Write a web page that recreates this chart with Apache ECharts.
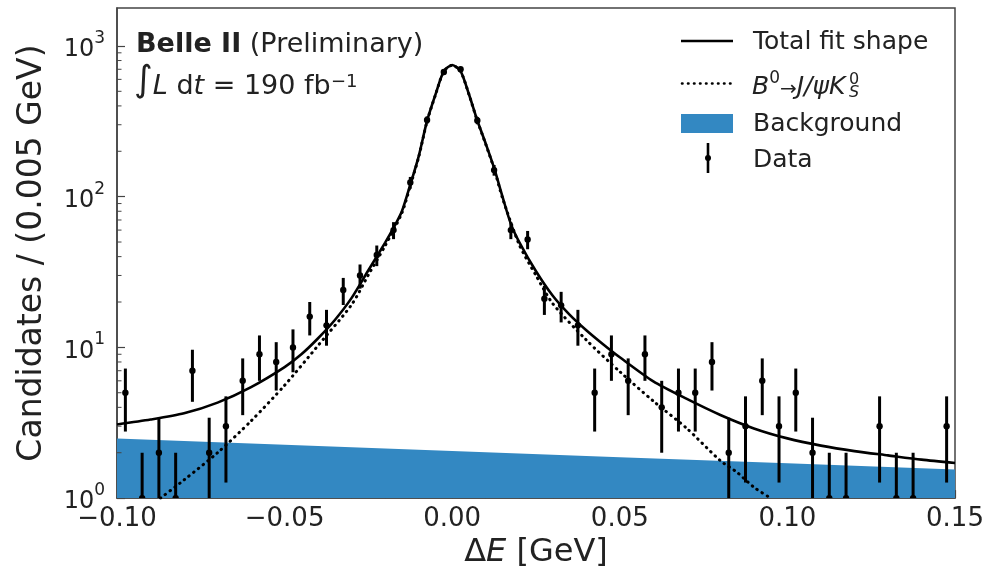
<!DOCTYPE html>
<html><head><meta charset="utf-8">
<script src="https://cdn.jsdelivr.net/npm/echarts/dist/echarts.min.js"></script>
<style>html,body{margin:0;padding:0;background:#fff}#c{width:998px;height:574px}</style>
</head><body><div id="c"></div>
<script>
// ---- data ----
const binCenters = [-0.0975,-0.0925,-0.0875,-0.0825,-0.0775,-0.0725,-0.0675,-0.0625,-0.0575,-0.0525,
  -0.0475,-0.0425,-0.0375,-0.0325,-0.0275,-0.0225,-0.0175,-0.0125,-0.0075,-0.0025,
  0.0025,0.0075,0.0125,0.0175,0.0225,0.0275,0.0325,0.0375,0.0425,0.0475,
  0.0525,0.0575,0.0625,0.0675,0.0725,0.0775,0.0825,0.0875,0.0925,0.0975,
  0.1025,0.1075,0.1125,0.1175,0.1225,0.1275,0.1325,0.1375,0.1425,0.1475];
const counts = [5,1,2,1,7,2,3,6,9,8,
  10,16,14,24,30,41,60,124,323,671,
  700,320,150,60,52,21,19,14,5,9,
  6,9,4,5,5,8,2,3,6,3,
  5,2,1,1,0,3,1,1,0,3];

const fitX = [-0.10,-0.09,-0.08,-0.07,-0.06,-0.05,-0.045,-0.04,-0.035,-0.03,-0.025,-0.02,-0.0175,-0.015,-0.0125,-0.01,-0.0075,-0.005,-0.0025,0,
  0.0025,0.005,0.0075,0.01,0.0125,0.015,0.0175,0.02,0.025,0.03,0.035,0.04,0.045,0.05,0.06,0.07,0.08,0.09,0.10,0.11,0.12,0.13,0.14,0.15];
const fitY = [3.08,3.32,3.65,4.3,5.45,7.4,9.0,11.5,15.2,21.3,32.5,49.5,62,80,120,185,318,475,680,747,
  680,478,320,225,155,100,66,50,32,22,16.5,13.0,10.5,8.6,5.95,4.55,3.56,2.9,2.49,2.23,2.05,1.92,1.80,1.71];

const sigX = [-0.087,-0.08,-0.07,-0.06,-0.05,-0.04,-0.03,-0.025,-0.02,-0.015,-0.0125,-0.01,-0.0075,-0.005,-0.0025,0,
  0.0025,0.005,0.0075,0.01,0.0125,0.015,0.02,0.025,0.03,0.04,0.05,0.06,0.07,0.08,0.085,0.09,0.095];
const sigY = [1.0,1.32,2.0,3.25,5.6,10.3,19.2,30.3,47.3,78,118,183,316,473,678,745,
  678,476,318,223,153,98,48,30,19.5,11.2,6.9,4.4,2.9,1.77,1.48,1.18,1.0];

const bkgX = [-0.10,-0.05,0.00,0.05,0.10,0.15];
const bkgY = [2.49,2.26,2.05,1.87,1.70,1.55];

const xTickValues = [-0.10,-0.05,0.00,0.05,0.10,0.15];
const yMajorTicks = [1,10,100,1000];
const yMinorTicks = [2,3,4,5,6,7,8,9,20,30,40,50,60,70,80,90,200,300,400,500,600,700,800,900];

// ---- chart ----
const FONT = 'DejaVu Sans';
const TXT = '#222';
const BLUE = '#3388c2';
const X_MIN = -0.10, X_MAX = 0.15, Y_MIN = 1, Y_MAX = 1785;

const chart = echarts.init(document.getElementById('c'), null, {renderer: 'canvas'});

const dataPts = [];
binCenters.forEach((x, i) => { if (counts[i] > 0) dataPts.push([x, counts[i]]); });

const option = {
  animation: false,
  backgroundColor: '#fff',
  grid: {left: 117, right: 43, top: 8, bottom: 75, show: true, borderColor: '#444', borderWidth: 1.5, backgroundColor: 'transparent'},
  xAxis: {
    type: 'value', min: X_MIN, max: X_MAX, interval: 0.05,
    name: '{n|Δ}{i|E}{n| [GeV]}', nameLocation: 'middle', nameGap: 31,
    nameTextStyle: {
      rich: {
        n: {fontFamily: FONT, fontSize: 32, color: TXT},
        i: {fontFamily: FONT, fontSize: 32, color: TXT, fontStyle: 'italic'}
      }},
    axisLine: {show: true, onZero: false, lineStyle: {color: '#444', width: 1.5}},
    axisTick: {show: true, inside: true, length: 8, lineStyle: {color: '#444', width: 1.2}},
    minorTick: {show: true, splitNumber: 5, length: 4, lineStyle: {color: '#444', width: 1}},
    splitLine: {show: false}, minorSplitLine: {show: false},
    axisLabel: {fontFamily: FONT, fontSize: 26, color: TXT, margin: 8,
      formatter: v => (v < -1e-9 ? '\u2212' : '') + Math.abs(v).toFixed(2)}
  },
  yAxis: {
    type: 'log', logBase: 10, min: Y_MIN, max: Y_MAX,
    name: 'Candidates / (0.005 GeV)', nameLocation: 'middle', nameGap: 68,
    nameTextStyle: {fontFamily: FONT, fontSize: 33, color: TXT},
    axisLine: {show: true, onZero: false, lineStyle: {color: '#444', width: 1.5}},
    axisTick: {show: true, inside: true, length: 8, lineStyle: {color: '#444', width: 1.2}},
    minorTick: {show: false},
    splitLine: {show: false},
    axisLabel: {fontFamily: FONT, color: TXT, margin: 12, showMaxLabel: false,
      formatter: v => {
        const e = Math.round(Math.log10(v));
        if (!yMajorTicks.some(t => Math.abs(t - v) / t < 1e-6)) return '';
        return '{b|10}{s|' + e + '}';
      },
      rich: {
        b: {fontFamily: FONT, fontSize: 24, color: TXT, lineHeight: 32, verticalAlign: 'bottom'},
        s: {fontFamily: FONT, fontSize: 17, color: TXT, lineHeight: 20, verticalAlign: 'top'}
      }
    }
  },
  series: [
    {
      name: 'Background', type: 'line', data: bkgX.map((x, i) => [x, bkgY[i]]),
      showSymbol: false, symbol: 'none', lineStyle: {width: 0},
      areaStyle: {color: BLUE, opacity: 1, origin: 'start'}, z: 1
    },
    {
      name: 'Total fit shape', type: 'line', data: fitX.map((x, i) => [x, fitY[i]]),
      smooth: 0.25, showSymbol: false, symbol: 'none',
      lineStyle: {color: '#000', width: 2.6}, z: 3
    },
    {
      name: 'Signal', type: 'line', data: sigX.map((x, i) => [x, sigY[i]]),
      smooth: 0.25, showSymbol: false, symbol: 'none',
      lineStyle: {color: '#000', width: 3, type: [0.5, 5.5], cap: 'round'}, z: 3
    },
    {
      name: 'Data', type: 'custom', clip: true, z: 4,
      data: dataPts,
      renderItem: (params, api) => {
        const x = api.value(0), n = api.value(1);
        const e = Math.sqrt(n);
        const lo = Math.max(n - e, 0.01);
        const p1 = api.coord([x, n + e]);
        const p2 = api.coord([x, lo]);
        const c = api.coord([x, n]);
        return {type: 'group', children: [
          {type: 'line', shape: {x1: p1[0], y1: p1[1], x2: p2[0], y2: p2[1]}, style: {stroke: '#000', lineWidth: 3}},
          {type: 'circle', shape: {cx: c[0], cy: c[1], r: 3.2}, style: {fill: '#000'}}
        ]};
      }
    },
    {
      name: 'yminor', type: 'custom', clip: false, z: 5, silent: true,
      data: yMinorTicks.map(v => [X_MIN, v]),
      renderItem: (params, api) => {
        const c = api.coord([X_MIN, api.value(1)]);
        return {type: 'line', shape: {x1: c[0], y1: c[1], x2: c[0] + 4.5, y2: c[1]}, style: {stroke: '#444', lineWidth: 1}};
      }
    }
  ],
  graphic: [
    {type: 'text', left: 136, top: 31, style: {
      text: '{b|Belle II}{r| (Preliminary)}',
      rich: {
        b: {fontFamily: FONT, fontSize: 27, fontWeight: 'bold', fill: TXT},
        r: {fontFamily: FONT, fontSize: 27, fill: TXT}
      }}},
    {type: 'text', left: 134, top: 64, style: {
      text: '{m|∫}{i|L}{n| d}{i|t}{n| = 190 fb}',
      rich: {
        m: {fontFamily: FONT, fontSize: 36, fill: TXT, lineHeight: 40, verticalAlign: 'bottom'},
        i: {fontFamily: FONT, fontSize: 27, fontStyle: 'italic', fill: TXT, lineHeight: 36, verticalAlign: 'bottom'},
        n: {fontFamily: FONT, fontSize: 27, fill: TXT, lineHeight: 36, verticalAlign: 'bottom'}
      }}},
    {type: 'text', x: 331, y: 73, style: {text: '\u22121', fontFamily: FONT, fontSize: 18, fill: TXT, verticalAlign: 'top'}},
    // legend
    {type: 'line', shape: {x1: 681, y1: 41, x2: 733, y2: 41}, style: {stroke: '#000', lineWidth: 2.6}},
    {type: 'text', x: 753, y: 42, style: {text: 'Total fit shape', fontFamily: FONT, fontSize: 25, fill: TXT, verticalAlign: 'middle'}},
    {type: 'line', shape: {x1: 682, y1: 83.5, x2: 733, y2: 83.5}, style: {stroke: '#000', lineWidth: 2.6, lineDash: [0.5, 5.5], lineCap: 'round'}},
    {type: 'text', x: 752, y: 85, style: {
      text: '{i|B}{s|0}{n|\u2192}{i|J/ψK}', verticalAlign: 'middle',
      rich: {
        i: {fontFamily: FONT, fontSize: 25, fontStyle: 'italic', fill: TXT, lineHeight: 30, verticalAlign: 'bottom'},
        n: {fontFamily: FONT, fontSize: 20, fill: TXT, lineHeight: 30, verticalAlign: 'bottom'},
        s: {fontFamily: FONT, fontSize: 17, fill: TXT, lineHeight: 22, verticalAlign: 'top'}
      }}},
    {type: 'text', x: 849, y: 72, style: {text: '0', fontFamily: FONT, fontSize: 16, fill: TXT, verticalAlign: 'top'}},
    {type: 'text', x: 849, y: 85, style: {text: 'S', fontFamily: FONT, fontSize: 16, fontStyle: 'italic', fill: TXT, verticalAlign: 'top'}},
    {type: 'rect', shape: {x: 681, y: 114, width: 52, height: 19}, style: {fill: BLUE}},
    {type: 'text', x: 753, y: 124, style: {text: 'Background', fontFamily: FONT, fontSize: 25, fill: TXT, verticalAlign: 'middle'}},
    {type: 'line', shape: {x1: 708, y1: 143, x2: 708, y2: 173}, style: {stroke: '#000', lineWidth: 2.6}},
    {type: 'circle', shape: {cx: 708, cy: 158, r: 3}, style: {fill: '#000'}},
    {type: 'text', x: 753, y: 160, style: {text: 'Data', fontFamily: FONT, fontSize: 25, fill: TXT, verticalAlign: 'middle'}}
  ]
};
chart.setOption(option);
</script>
</body></html>
